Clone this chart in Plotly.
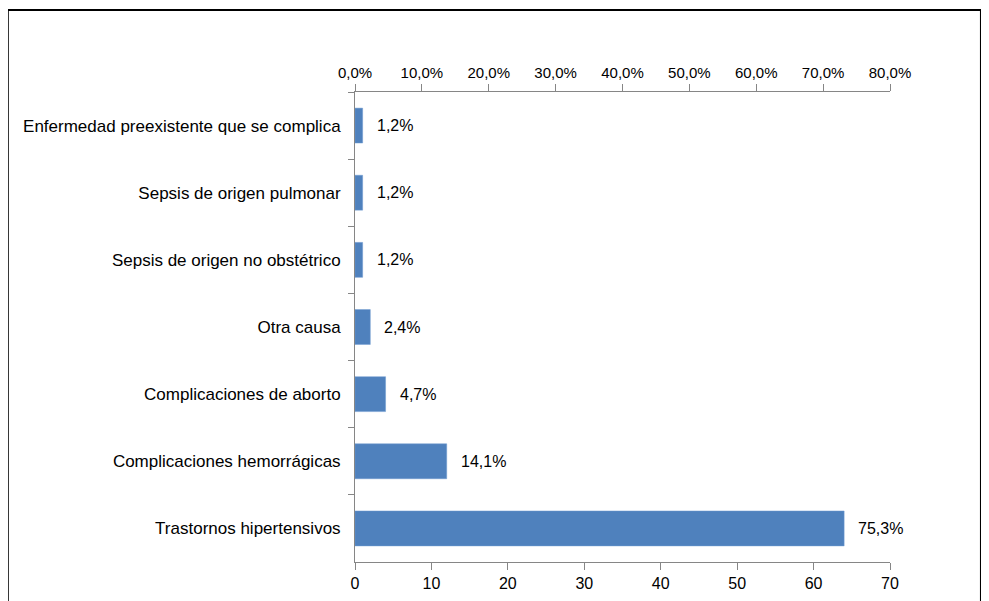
import plotly.graph_objects as go

causes = [
    "Enfermedad preexistente que se complica",
    "Sepsis de origen pulmonar",
    "Sepsis de origen no obstétrico",
    "Otra causa",
    "Complicaciones de aborto",
    "Complicaciones hemorrágicas",
    "Trastornos hipertensivos",
]
cases = [1, 1, 1, 2, 4, 12, 64]
pct_labels = ["1,2%", "1,2%", "1,2%", "2,4%", "4,7%", "14,1%", "75,3%"]
pct_ticks = [0, 10, 20, 30, 40, 50, 60, 70, 80]
pct_tick_text = ["0,0%", "10,0%", "20,0%", "30,0%", "40,0%", "50,0%", "60,0%", "70,0%", "80,0%"]

FONT = "Liberation Sans, Arial, sans-serif"
AXIS_GREY = "#868686"

fig = go.Figure()
fig.add_trace(go.Bar(
    x=cases,
    y=causes,
    orientation="h",
    marker=dict(color="#4F81BD", line=dict(color="#6F9BD1", width=0.5)),
    width=0.52,
    hoverinfo="x+y",
))
# empty trace so the top percentage axis is drawn
fig.add_trace(go.Scatter(
    x=pct_ticks[:1], y=causes[:1], xaxis="x2", mode="markers",
    marker=dict(opacity=0), hoverinfo="skip", showlegend=False,
))

for cause, n, lab in zip(causes, cases, pct_labels):
    fig.add_annotation(
        x=n, y=cause, text=lab, showarrow=False,
        xanchor="left", xshift=12, font=dict(size=16, color="#000"),
    )

# page body adds an 8px offset, margins compensate for it
fig.update_layout(
    width=989,
    height=601,
    margin=dict(l=347, r=107, t=84, b=47),
    paper_bgcolor="white",
    plot_bgcolor="white",
    font=dict(family=FONT, size=16, color="#000"),
    showlegend=False,
    xaxis=dict(
        range=[0, 70], dtick=10, showgrid=False, zeroline=False,
        showline=True, linecolor=AXIS_GREY, linewidth=1,
        ticks="outside", ticklen=7, tickcolor=AXIS_GREY,
    ),
    xaxis2=dict(
        range=[0, 80], tickvals=pct_ticks, ticktext=pct_tick_text,
        overlaying="x", side="top", showgrid=False, zeroline=False,
        showline=True, linecolor=AXIS_GREY, linewidth=1,
        ticks="outside", ticklen=7, tickcolor=AXIS_GREY,
        tickfont=dict(size=15),
    ),
    yaxis=dict(
        autorange="reversed", showgrid=False, zeroline=False,
        showline=True, linecolor=AXIS_GREY, linewidth=1,
        ticks="outside", tickson="boundaries", ticklen=6,
        tickcolor=AXIS_GREY, ticklabelstandoff=10,
        tickfont=dict(size=17),
    ),
    shapes=[dict(
        type="rect", xref="paper", yref="paper",
        x0=-0.649, x1=1.170, y0=-0.12, y1=1.1745,
        line=dict(color="black", width=2), layer="below",
    )],
)

fig.write_html("out.html")
